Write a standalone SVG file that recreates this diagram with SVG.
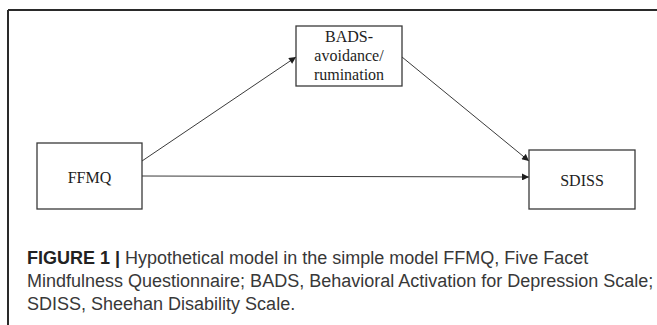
<svg xmlns="http://www.w3.org/2000/svg" width="657" height="325" viewBox="0 0 657 325">
  <style>
    .box { fill: #ffffff; stroke: #3a3a3a; stroke-width: 1.3; }
    .lbl { font-family: "Liberation Serif", "Times New Roman", serif; font-size: 16px; fill: #1e1e1e; text-anchor: middle; }
    .edge { stroke: #3a3a3a; stroke-width: 1; fill: none; marker-end: url(#arrow); }
    .cap { font-family: "Liberation Sans", Arial, sans-serif; font-size: 18px; fill: #383838; }
    .capb { font-weight: bold; fill: #222222; }
  </style>
  <defs>
    <marker id="arrow" viewBox="0 0 10 10" refX="10" refY="5" markerWidth="8" markerHeight="7" markerUnits="userSpaceOnUse" orient="auto">
      <path d="M0,0 L10,5 L0,10 z" fill="#1e1e1e"/>
    </marker>
  </defs>
  <rect width="657" height="325" fill="#ffffff"/>

  <!-- figure frame: top and left rules -->
  <g id="frame" stroke="#2a2a2a" stroke-width="2" fill="none">
    <line x1="8" y1="10" x2="657" y2="10"/>
    <line x1="8" y1="10" x2="8" y2="325"/>
  </g>

  <!-- connectors -->
  <g id="connectors">
    <line class="edge" x1="142" y1="161" x2="296" y2="57"/>
    <line class="edge" x1="402" y1="57" x2="529" y2="161"/>
    <line class="edge" x1="142" y1="176" x2="529" y2="177"/>
  </g>

  <!-- nodes -->
  <g id="node-bads">
    <rect class="box" x="296" y="26" width="106" height="60"/>
    <text class="lbl" x="349" y="42">BADS-</text>
    <text class="lbl" x="349" y="61">avoidance/</text>
    <text class="lbl" x="349" y="80">rumination</text>
  </g>
  <g id="node-ffmq">
    <rect class="box" x="37" y="143" width="105" height="66"/>
    <text class="lbl" x="89.5" y="183">FFMQ</text>
  </g>
  <g id="node-sdiss">
    <rect class="box" x="529" y="150" width="106" height="59"/>
    <text class="lbl" x="582" y="186">SDISS</text>
  </g>

  <!-- caption -->
  <g id="caption">
    <text class="cap" x="27" y="264"><tspan class="capb">FIGURE 1 |</tspan> Hypothetical model in the simple model FFMQ, Five Facet</text>
    <text class="cap" x="27" y="287">Mindfulness Questionnaire; BADS, Behavioral Activation for Depression Scale;</text>
    <text class="cap" x="27" y="310">SDISS, Sheehan Disability Scale.</text>
  </g>
</svg>
